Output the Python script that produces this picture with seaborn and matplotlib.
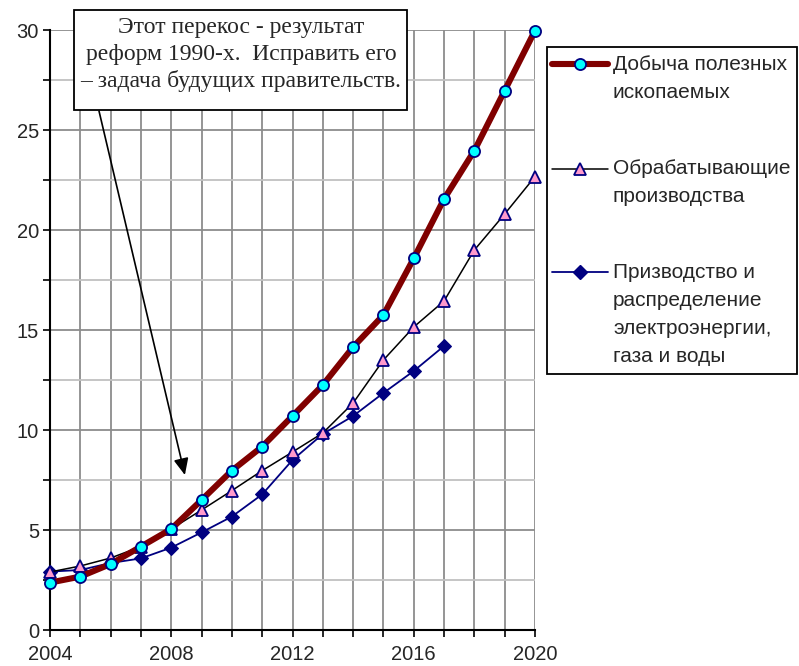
import matplotlib
matplotlib.use("Agg")
import matplotlib.pyplot as plt
from matplotlib.patches import Rectangle
from matplotlib.lines import Line2D
from matplotlib.ticker import MultipleLocator
import seaborn as sns
import pandas as pd

years = list(range(2004, 2021))
mining = [2.37, 2.67, 3.3, 4.17, 5.05, 6.5, 7.97, 9.17, 10.7, 12.25, 14.15, 15.75,
          18.58, 21.55, 23.97, 26.97, 29.97]
manufacturing = [2.9, 3.2, 3.6, 4.17, 5.05, 6.0, 6.97, 7.97, 8.9, 9.85, 11.35, 13.5,
                 15.15, 16.45, 19.0, 20.8, 22.67]
years_util = list(range(2004, 2018))
utilities = [2.92, 3.0, 3.35, 3.58, 4.12, 4.88, 5.67, 6.78, 8.5, 9.8, 10.7, 11.85,
             12.95, 14.2]

labels = ["Добыча полезных\nископаемых",
          "Обрабатывающие\nпроизводства",
          "Призводство и\nраспределение\nэлектроэнергии,\nгаза и воды"]
note = "Этот перекос - результат\nреформ 1990-х.  Исправить его\n– задача будущих правительств."

sns.set_style("white")
plt.rcParams['font.family'] = ['Liberation Sans', 'DejaVu Sans']

W, H = 799, 666
fig = plt.figure(figsize=(W / 100, H / 100), dpi=100)
ax = fig.add_axes([50 / W, 1 - 630 / H, (535 - 50) / W, (630 - 30) / H])

df_m = pd.DataFrame({"year": years, "v": mining})
df_p = pd.DataFrame({"year": years, "v": manufacturing})
df_u = pd.DataFrame({"year": years_util, "v": utilities})

sns.lineplot(data=df_u, x="year", y="v", ax=ax, color="#000080", lw=1.3,
             marker="D", markersize=7, markerfacecolor="#000080",
             markeredgecolor="#000080", clip_on=False, zorder=3)
sns.lineplot(data=df_p, x="year", y="v", ax=ax, color="black", lw=1.1,
             marker="^", markersize=9, markerfacecolor="#ff99cc",
             markeredgecolor="#000080", markeredgewidth=1.3, clip_on=False, zorder=4)
sns.lineplot(data=df_m, x="year", y="v", ax=ax, color="#800000", lw=4.4,
             marker="o", markersize=8, markerfacecolor="#00ffff",
             markeredgecolor="#000080", markeredgewidth=1.3, clip_on=False, zorder=5)

ax.set_xlim(2004, 2020)
ax.set_ylim(0, 30)
ax.set_xlabel("")
ax.set_ylabel("")
ax.xaxis.set_major_locator(MultipleLocator(4))
ax.xaxis.set_minor_locator(MultipleLocator(1))
ax.yaxis.set_major_locator(MultipleLocator(5))
ax.yaxis.set_minor_locator(MultipleLocator(2.5))
ax.tick_params(which="both", direction="out", length=5, width=1.2, color="black",
               left=True, bottom=True, labelsize=14.5, pad=3)
ax.tick_params(axis="x", which="both", pad=6)
ax.grid(which="major", axis="both", color="#8c8c8c", lw=1.3)
ax.grid(which="minor", axis="x", color="#8c8c8c", lw=1.3)
ax.grid(which="minor", axis="y", color="#c0c0c0", lw=1.3)
ax.set_axisbelow(True)
for s in ["top", "right"]:
    ax.spines[s].set_visible(False)
for s in ["left", "bottom"]:
    ax.spines[s].set_color("black")
    ax.spines[s].set_linewidth(1.5)

# annotation box
fx = lambda px: px / W
fy = lambda py: 1 - py / H
fig.add_artist(Rectangle((fx(74), fy(110)), fx(407) - fx(74), fy(10) - fy(110),
                         transform=fig.transFigure, facecolor="white",
                         edgecolor="black", lw=1.3, zorder=10))
for i, line in enumerate(note.split("\n")):
    fig.text(fx(241), fy(28 + i * 26.5), line, ha="center", va="center",
             fontsize=17, family=["Liberation Serif", "DejaVu Serif"], zorder=11)
ax.annotate("", xy=(2008.45, 7.75), xycoords="data",
            xytext=(fx(99), fy(111)), textcoords="figure fraction",
            arrowprops=dict(arrowstyle="-|>,head_length=1.0,head_width=0.45",
                            color="black", lw=1.2, shrinkA=0, shrinkB=0),
            zorder=9)

# legend
fig.add_artist(Rectangle((fx(547), fy(374)), fx(797) - fx(547), fy(47) - fy(374),
                         transform=fig.transFigure, facecolor="white",
                         edgecolor="black", lw=1.3, zorder=10))
styles = [
    dict(color="#800000", lw=4.4, marker="o", markersize=8, markerfacecolor="#00ffff",
         markeredgecolor="#000080", markeredgewidth=1.3),
    dict(color="black", lw=1.1, marker="^", markersize=9, markerfacecolor="#ff99cc",
         markeredgecolor="#000080", markeredgewidth=1.3),
    dict(color="#000080", lw=1.3, marker="D", markersize=7, markerfacecolor="#000080",
         markeredgecolor="#000080"),
]
tops = [64, 169, 272]
for lab, st, y0 in zip(labels, styles, tops):
    fig.add_artist(Line2D([fx(552), fx(608)], [fy(y0), fy(y0)], transform=fig.transFigure,
                          zorder=11, **{k: v for k, v in st.items() if not k.startswith("marker")}))
    fig.add_artist(Line2D([fx(580)], [fy(y0)], transform=fig.transFigure, zorder=12,
                          linestyle="none", **{k: v for k, v in st.items() if k != "lw"}))
    for j, line in enumerate(lab.split("\n")):
        fig.text(fx(613), fy(y0 + j * 28), line, ha="left", va="center",
                 fontsize=15, zorder=11)

fig.savefig("out.png", dpi=100)
